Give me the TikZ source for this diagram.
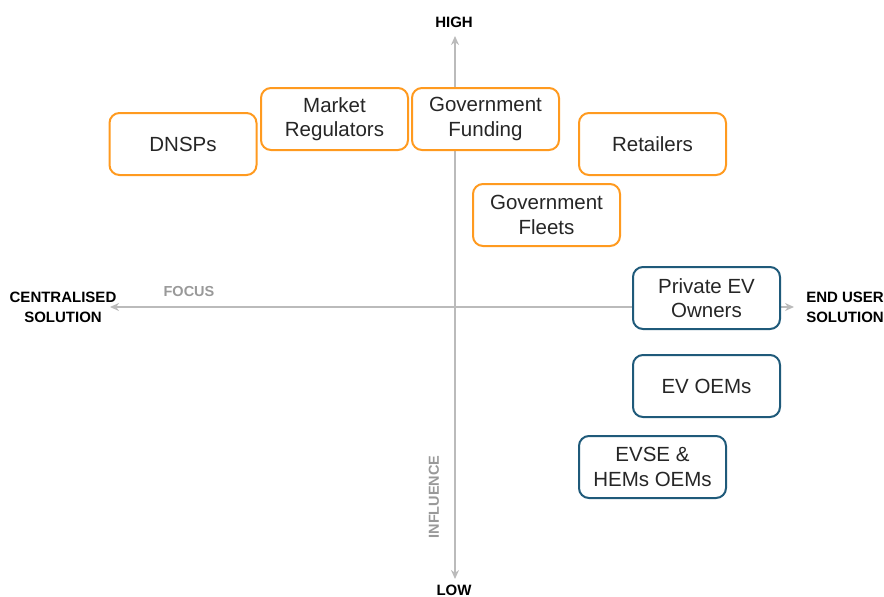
\documentclass[tikz,border=0pt]{standalone}
\usepackage{fontspec}
\setmainfont{Liberation Sans}
\usetikzlibrary{arrows.meta}
\definecolor{boxorange}{HTML}{FF9A1F}
\definecolor{boxblue}{HTML}{1F5A7A}
\definecolor{axisgrey}{HTML}{BBBBBB}
\definecolor{labelgrey}{HTML}{999999}
\tikzset{
  stakebox/.style={draw, line width=2pt, rounded corners=10pt, fill=white,
    minimum width=147pt, minimum height=62pt, align=center, text=black!85,
    font=\fontsize{20.5}{24.5}\selectfont},
  orangebox/.style={stakebox, draw=boxorange},
  bluebox/.style={stakebox, draw=boxblue},
  axisline/.style={draw=axisgrey, line width=1.6pt, -{Stealth[length=9pt,width=8pt]}},
  endlabel/.style={font=\fontsize{15}{20}\selectfont\bfseries, align=center, text=black},
  axislabel/.style={font=\fontsize{14.5}{16}\selectfont\bfseries, text=labelgrey}
}
\begin{document}
\begin{tikzpicture}[x=1pt,y=-1pt]
      \useasboundingbox (0,0) rectangle (884,597);
      \coordinate (o) at (455,307);
      \coordinate (left) at (110,307);
      \coordinate (right) at (794,307);
      \coordinate (top) at (455,36);
      \coordinate (bottom) at (455,579);
      \draw[axisline] (o) -- (left);
      \draw[axisline] (o) -- (right);
      \draw[axisline] (o) -- (top);
      \draw[axisline] (o) -- (bottom);
      \node[endlabel] (central) at (63,307) {CENTRALISED\\SOLUTION};
      \node[endlabel] (enduser) at (845,307) {END USER\\SOLUTION};
      \node[endlabel] (high) at (454,22) {HIGH};
      \node[endlabel] (low) at (454,590) {LOW};
      \node[axislabel] (focus) at (189,292) {FOCUS};
      \node[axislabel, rotate=90] (influence) at (434,497) {INFLUENCE};
      \foreach \n/\x/\y/\t in{dnsps/183/144/DNSPs, market/334.5/119/Market\\Regulators,
          funding/485.5/119/Government\\Funding, retailers/652.5/144/Retailers,
          fleets/546.5/215/Government\\Fleets}{%
        \node[orangebox] (\n) at (\x,\y) {\t};
      }
      \foreach \n/\x/\y/\t in{owners/706.5/298/Private EV\\Owners, evoems/706.5/386/EV OEMs,
          evse/652.5/467/EVSE \&\\HEMs OEMs}{%
        \node[bluebox] (\n) at (\x,\y) {\t};
      }
    \end{tikzpicture}
\end{document}
